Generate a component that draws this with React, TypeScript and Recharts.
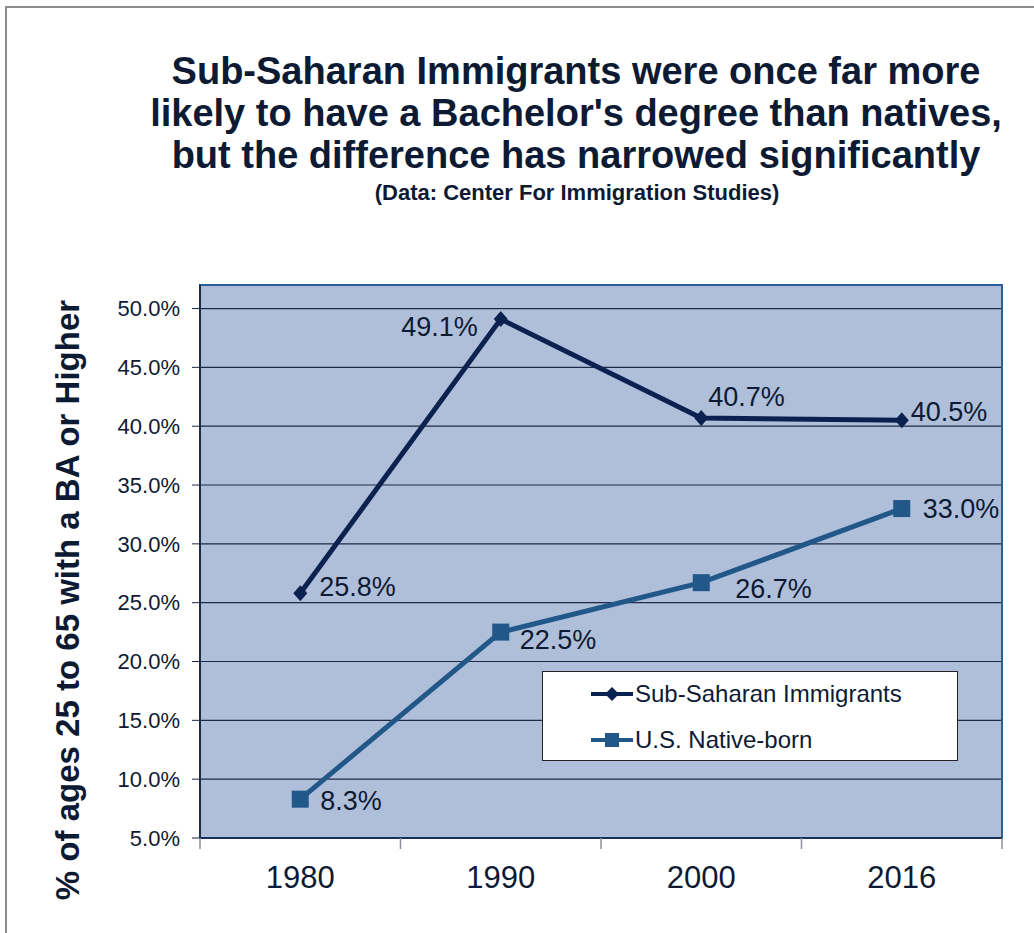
// education attainment chart: sub-saharan immigrants vs us native-born, redrawn with recharts
// the page sits at the top-left corner so pixel positions line up with the reference picture

import {
  LineChart,
  Line,
  XAxis,
  YAxis,
  CartesianGrid,
  ReferenceArea,
  LabelList,
} from "recharts";

// data lives up here so it's easy to swap out
const years = ["1980", "1990", "2000", "2016"];
const subSaharan = [25.8, 49.1, 40.7, 40.5];
const nativeBorn = [8.3, 22.5, 26.7, 33.0];
const yTicks = [5, 10, 15, 20, 25, 30, 35, 40, 45, 50];
const seriesNames = ["Sub-Saharan Immigrants", "U.S. Native-born"];

// numeric x so we can put tick marks between the categories like excel does
const rows = years.map((year, i) => ({
  x: i,
  year,
  ssa: subSaharan[i],
  usa: nativeBorn[i],
}));
const xTicks = [-0.5, 0, 0.5, 1, 1.5, 2, 2.5, 3, 3.5];

const W = 1034;
const H = 933;
const NAVY = "#0b2150";
const STEEL = "#22578a";
const TEXT = "#0d1a33";
const FONT = "'Liberation Sans', Arial, sans-serif";

// per-point label nudges (dx from marker to text start / end, dy for the text middle)
const ssaLabelPos = [
  { dx: 19, dy: -6, anchor: "start" },
  { dx: -23, dy: 8, anchor: "end" },
  { dx: 7, dy: -21, anchor: "start" },
  { dx: 9, dy: -8, anchor: "start" },
];
const usaLabelPos = [
  { dx: 20, dy: 2, anchor: "start" },
  { dx: 19, dy: 8, anchor: "start" },
  { dx: 34, dy: 6, anchor: "start" },
  { dx: 21, dy: 0, anchor: "start" },
];

function makeLabel(pos: { dx: number; dy: number; anchor: string }[]) {
  return (props: any) => {
    const { x, y, index, value } = props;
    const p = pos[index];
    return (
      <text
        x={x + p.dx}
        y={y + p.dy}
        textAnchor={p.anchor as any}
        dominantBaseline="central"
        fontSize={27}
        fontFamily={FONT}
        fill={TEXT}
      >
        {Number(value).toFixed(1) + "%"}
      </text>
    );
  };
}

function Diamond(props: any) {
  const { cx, cy } = props;
  if (cx == null || cy == null) return null;
  const r = 8;
  return (
    <path
      d={`M${cx},${cy - r}L${cx + r - 1},${cy}L${cx},${cy + r}L${cx - r + 1},${cy}Z`}
      fill={NAVY}
    />
  );
}

function Square(props: any) {
  const { cx, cy } = props;
  if (cx == null || cy == null) return null;
  return <rect x={cx - 8.5} y={cy - 8.5} width={17} height={17} fill={STEEL} />;
}

// integer ticks are the year labels, half ticks are the little marks between categories
function XTick(props: any) {
  const { x, y, payload } = props;
  const v = payload.value;
  if (Number.isInteger(v)) {
    return (
      <text
        x={x}
        y={y + 39}
        textAnchor="middle"
        dominantBaseline="central"
        fontSize={31}
        fontFamily={FONT}
        fill={TEXT}
      >
        {years[v]}
      </text>
    );
  }
  return <line x1={x} x2={x} y1={y} y2={y + 11} stroke="#8a8f99" strokeWidth={1.5} />;
}

function LegendBox() {
  return (
    <div
      style={{
        position: "absolute",
        left: 542,
        top: 671,
        width: 414,
        height: 88,
        background: "#fff",
        border: "1px solid #222",
        fontFamily: FONT,
        fontSize: 24,
        color: TEXT,
      }}
    >
      {seriesNames.map((name, i) => (
        <div
          key={name}
          style={{
            position: "absolute",
            left: 48,
            top: i === 0 ? 8 : 54,
            display: "flex",
            alignItems: "center",
            height: 28,
          }}
        >
          <svg width={42} height={20} style={{ marginRight: 2 }}>
            <line x1={0} x2={42} y1={10} y2={10} stroke={i === 0 ? NAVY : STEEL} strokeWidth={4} />
            {i === 0 ? (
              <path d="M21,3L28,10L21,17L14,10Z" fill={NAVY} />
            ) : (
              <rect x={14} y={3} width={14} height={14} fill={STEEL} />
            )}
          </svg>
          <span>{name}</span>
        </div>
      ))}
    </div>
  );
}

export default function App() {
  return (
    <div
      style={{
        position: "absolute",
        left: 0,
        top: 0,
        width: W,
        height: H,
        background: "#fff",
        overflow: "hidden",
      }}
    >
      {/* outer frame from the original slide, only top and left edges show */}
      <div
        style={{
          position: "absolute",
          left: 5,
          top: 6,
          width: W,
          height: H,
          borderTop: "2px solid #8c8c8c",
          borderLeft: "2px solid #8c8c8c",
        }}
      />

      <div
        style={{
          position: "absolute",
          left: 576,
          top: 50,
          transform: "translateX(-50%)",
          width: 940,
          textAlign: "center",
          fontFamily: FONT,
          fontWeight: 700,
          fontSize: 38,
          lineHeight: "42px",
          color: TEXT,
        }}
      >
        Sub-Saharan Immigrants were once far more
        <br />
        likely to have a Bachelor's degree than natives,
        <br />
        but the difference has narrowed significantly
      </div>
      <div
        style={{
          position: "absolute",
          left: 577,
          top: 180,
          transform: "translateX(-50%)",
          whiteSpace: "nowrap",
          fontFamily: FONT,
          fontWeight: 700,
          fontSize: 22,
          color: TEXT,
        }}
      >
        (Data: Center For Immigration Studies)
      </div>

      <div
        style={{
          position: "absolute",
          left: 68,
          top: 600,
          transform: "translate(-50%, -50%) rotate(-90deg)",
          whiteSpace: "nowrap",
          fontFamily: FONT,
          fontWeight: 700,
          fontSize: 33,
          color: TEXT,
        }}
      >
        % of ages 25 to 65 with a BA or Higher
      </div>

      <div style={{ position: "absolute", left: 0, top: 0 }}>
        <LineChart
          width={W}
          height={H}
          data={rows}
          margin={{ top: 285, right: 32, bottom: 0, left: 100 }}
        >
          <CartesianGrid
            vertical={false}
            fill="#b0bfd9"
            stroke="#1e2a45"
            strokeWidth={1.2}
            fillOpacity={1}
          />
          <ReferenceArea
            x1={-0.5}
            x2={3.5}
            y1={5}
            y2={52}
            fill="none"
            stroke="#2a5f93"
            strokeWidth={2}
            ifOverflow="visible"
          />
          <XAxis
            dataKey="x"
            type="number"
            domain={[-0.5, 3.5]}
            ticks={xTicks}
            interval={0}
            height={95}
            tickLine={false}
            tickSize={0}
            tickMargin={0}
            axisLine={{ stroke: "#16305a", strokeWidth: 2 }}
            tick={<XTick />}
          />
          <YAxis
            width={100}
            domain={[5, 52]}
            ticks={yTicks}
            interval={0}
            tickFormatter={(v: number) => v.toFixed(1) + "%"}
            tick={{ fontSize: 22, fill: TEXT, fontFamily: FONT }}
            tickSize={8}
            tickMargin={12}
            tickLine={{ stroke: "#1e2a45" }}
            axisLine={{ stroke: "#1e2a45", strokeWidth: 2 }}
          />
          <Line
            dataKey="ssa"
            stroke={NAVY}
            strokeWidth={5}
            dot={<Diamond />}
            activeDot={false}
            isAnimationActive={false}
          >
            <LabelList dataKey="ssa" content={makeLabel(ssaLabelPos)} />
          </Line>
          <Line
            dataKey="usa"
            stroke={STEEL}
            strokeWidth={5}
            dot={<Square />}
            activeDot={false}
            isAnimationActive={false}
          >
            <LabelList dataKey="usa" content={makeLabel(usaLabelPos)} />
          </Line>
        </LineChart>
      </div>

      <LegendBox />
    </div>
  );
}
